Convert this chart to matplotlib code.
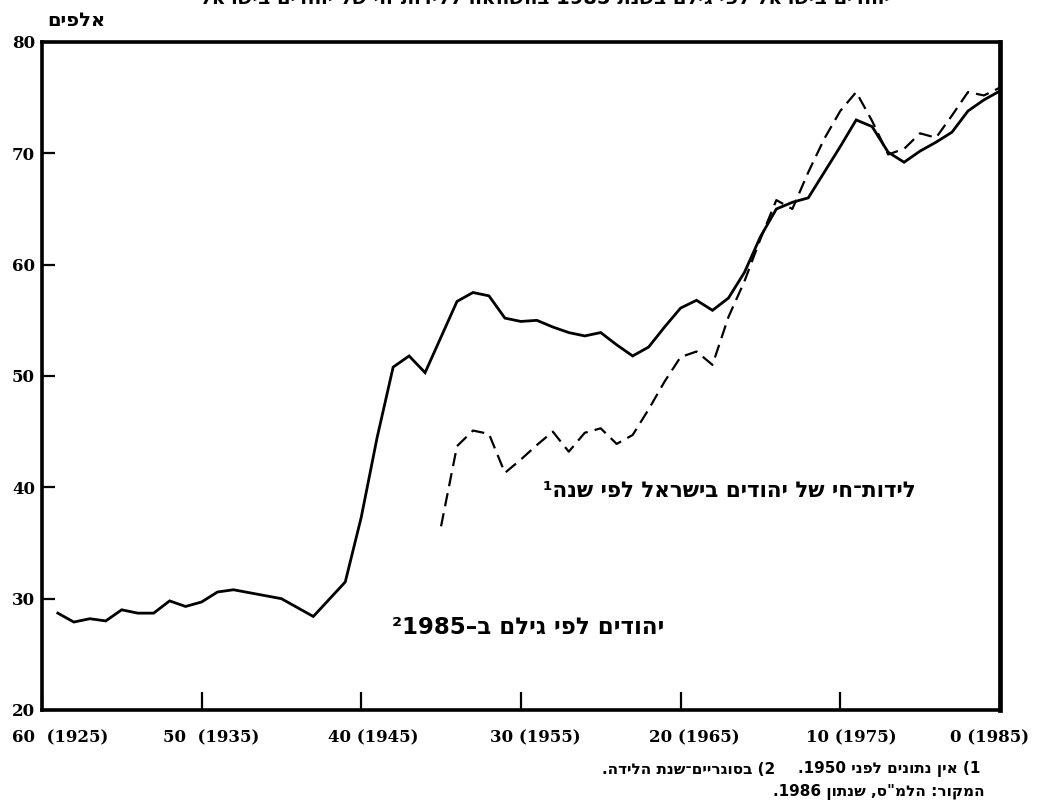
import re
import matplotlib
matplotlib.use('Agg')
import matplotlib.pyplot as plt
import matplotlib.transforms as mtransforms

# --- data (thousands) ---
# Jews in Israel by age in 1985 (solid)
age_solid = [59, 58, 57, 56, 55, 54, 53, 52, 51, 50, 49, 48, 46.5, 45, 43, 41, 40, 39, 38,
             37, 36, 35, 34, 33, 32, 31, 30, 29, 28, 27, 26, 25, 24, 23, 22, 21, 20,
             19, 18, 17, 16, 15, 14, 13, 12, 11, 10, 9, 8, 7, 6, 5, 4, 3, 2, 1, 0]
val_solid = [28.7, 27.9, 28.2, 28.0, 29.0, 28.7, 28.7, 29.8, 29.3, 29.7, 30.6, 30.8, 30.4, 30.0,
             28.4, 31.5, 37.3, 44.5, 50.8,
             51.8, 50.3, 53.5, 56.7, 57.5, 57.2, 55.2, 54.9, 55.0, 54.4, 53.9, 53.6, 53.9,
             52.8, 51.8, 52.6, 54.4, 56.1,
             56.8, 55.9, 57.0, 59.3, 62.5, 65.0, 65.6, 66.0, 68.3, 70.6, 73.0, 72.4, 70.1,
             69.2, 70.2, 71.0, 71.9, 73.8, 74.8, 75.6]

# live births of Jews in Israel by year (dashed), from 1950
age_dash = [35, 34, 33, 32, 31, 30, 29, 28, 27, 26, 25, 24, 23, 22, 21, 20,
            19, 18, 17, 16, 15, 14, 13, 12, 11, 10, 9, 8, 7, 6, 5, 4, 3, 2, 1, 0]
val_dash = [36.5, 43.7, 45.1, 44.8, 41.3, 42.5, 43.8, 45.0, 43.2, 44.9, 45.3, 43.9, 44.7,
            47.0, 49.5, 51.7,
            52.2, 51.0, 55.3, 58.5, 62.3, 65.8, 65.0, 68.3, 71.3, 73.8, 75.5, 72.9, 69.9,
            70.4, 71.8, 71.4, 73.4, 75.5, 75.2, 75.9]

xticks = [60, 50, 40, 30, 20, 10, 0]
xlabels = ['60  (1925)', '50  (1935)', '40 (1945)', '30 (1955)', '20 (1965)', '10 (1975)', '0 (1985)']
yticks = [20, 30, 40, 50, 60, 70, 80]

HEB = ['DejaVu Sans']


def rtl(s):
    # matplotlib has no bidi: put the logical string into visual order
    runs = re.findall(r'\d+|\D', s)
    runs.reverse()
    mirror = {'(': ')', ')': '('}
    return ''.join(mirror.get(r, r) for r in runs)


fig = plt.figure(figsize=(10.47, 8), dpi=100)
ax = fig.add_axes([0.040, 0.1125, 0.915, 0.835])

ax.plot(age_solid, val_solid, color='black', lw=2.0, solid_joinstyle='miter')
ax.plot(age_dash, val_dash, color='black', lw=1.6, dashes=(6, 3.2))

ax.set_xlim(60, 0)
ax.set_ylim(20, 80)
ax.set_xticks(xticks)
ax.set_xticklabels(xlabels)
ax.set_yticks(yticks)

for sp in ax.spines.values():
    sp.set_linewidth(2.6)
ax.spines['right'].set_linewidth(3.4)

ax.tick_params(axis='y', direction='in', length=9, width=1.6, pad=5, labelsize=12)
ax.tick_params(axis='x', direction='in', length=13, width=1.6, pad=14, labelsize=12)
for lab in ax.get_yticklabels() + ax.get_xticklabels():
    lab.set_fontfamily('DejaVu Serif')
    lab.set_fontweight('bold')

# shift x labels a little to the right, as in the print
offs = [18, 10, 12, 14, 14, 11, -10]
for lab, dx in zip(ax.get_xticklabels(), offs):
    lab.set_transform(lab.get_transform() + mtransforms.ScaledTranslation(dx / 100, 0, fig.dpi_scale_trans))

# curve labels
ax.text(5.3, 39.7, rtl('לידות־חי של יהודים בישראל לפי שנה¹'), ha='right', va='center',
        fontsize=15.5, fontweight='bold', family=HEB)
ax.text(21.0, 27.4, rtl('יהודים לפי גילם ב–1985²'), ha='right', va='center',
        fontsize=16.5, fontweight='bold', family=HEB)

# unit and notes
fig.text(105 / 1047, 1 - 20 / 800, rtl('אלפים'), ha='right', va='center',
         fontsize=14, fontweight='bold', family=HEB)
fig.text(545 / 1047, 1 + 2 / 800,
         rtl('יהודים בישראל לפי גילם בשנת 1985 בהשוואה ללידות־חי של יהודים בישראל'),
         ha='center', va='center', fontsize=14, fontweight='bold', family=HEB)
fig.text(980 / 1047, 1 - 769 / 800, rtl('1) אין נתונים לפני 1950.'), ha='right', va='center',
         fontsize=11, fontweight='bold', family=HEB)
fig.text(775 / 1047, 1 - 769 / 800, rtl('2) בסוגריים־שנת הלידה.'), ha='right', va='center',
         fontsize=11, fontweight='bold', family=HEB)
fig.text(985 / 1047, 1 - 792 / 800, rtl('המקור: הלמ"ס, שנתון 1986.'), ha='right', va='center',
         fontsize=11, fontweight='bold', family=HEB)

fig.savefig('out.png', dpi=100)
